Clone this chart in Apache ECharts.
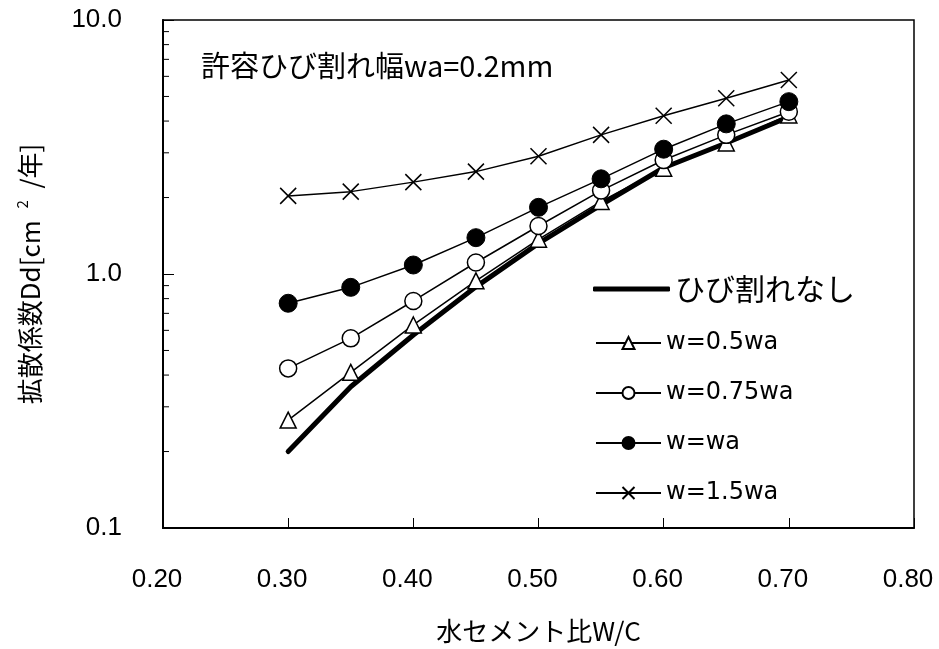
<!DOCTYPE html>
<html>
<head>
<meta charset="utf-8">
<script src="https://cdn.jsdelivr.net/npm/echarts@6/dist/echarts.min.js"></script>
<style>
  html, body { margin: 0; padding: 0; background: #fff; }
  #chart { width: 939px; height: 649px; }
</style>
</head>
<body>
<div id="chart"></div>
<script>
// 水セメント比
const wc = [0.30, 0.35, 0.40, 0.45, 0.50, 0.55, 0.60, 0.65, 0.70];
// 拡散係数 Dd [cm2/年]
const noCrack = [0.20, 0.36, 0.575, 0.89, 1.32, 1.87, 2.62, 3.28, 4.15];
const w05 = [0.266, 0.41, 0.63, 0.94, 1.37, 1.93, 2.61, 3.28, 4.23];
const w075 = [0.425, 0.558, 0.783, 1.11, 1.545, 2.13, 2.81, 3.53, 4.35];
const w10 = [0.767, 0.886, 1.085, 1.39, 1.83, 2.37, 3.10, 3.90, 4.77];
const w15 = [2.03, 2.11, 2.30, 2.53, 2.91, 3.53, 4.20, 4.92, 5.80];

const seriesNames = ['ひび割れなし', 'w=0.5wa', 'w=0.75wa', 'w=wa', 'w=1.5wa'];
const minorTicks = [0.2, 0.3, 0.4, 0.5, 0.6, 0.7, 0.8, 0.9, 2, 3, 4, 5, 6, 7, 8, 9];

const pair = (ys) => wc.map((x, i) => [x, ys[i]]);
const crossPath = 'path://M0,0L10,10M10,0L0,10';
const jp = '"Noto Sans CJK JP", sans-serif';
const num = '"Liberation Sans", Arial, sans-serif';

const chart = echarts.init(document.getElementById('chart'));

const thin = {color: '#000', width: 1.5};

chart.setOption({
  animation: false,
  backgroundColor: '#fff',
  title: {
    text: '許容ひび割れ幅wa=0.2mm',
    left: 201,
    top: 51,
    padding: 0,
    textStyle: {fontFamily: jp, fontSize: 29, fontWeight: 'normal', color: '#000'}
  },
  grid: {
    left: 163, right: 25, top: 20, bottom: 121,
    containLabel: false,
    outerBoundsMode: 'none',
    show: true,
    borderColor: '#000',
    borderWidth: 1.5
  },
  legend: [
    {
      data: [{name: seriesNames[0], icon: 'roundRect'}],
      left: 588,
      top: 269,
      itemWidth: 77,
      itemHeight: 5,
      itemStyle: {color: '#000'},
      textStyle: {fontFamily: jp, fontSize: 30, lineHeight: 30, color: '#000'}
    },
    {
      data: seriesNames.slice(1),
      orient: 'vertical',
      left: 590,
      top: 326,
      itemWidth: 65,
      itemHeight: 15,
      itemGap: 26,
      textStyle: {fontFamily: '"DejaVu Sans", sans-serif', fontSize: 24, lineHeight: 24, color: '#000'}
    }
  ],
  xAxis: {
    type: 'value',
    min: 0.2,
    max: 0.8,
    interval: 0.1,
    name: '水セメント比W/C',
    nameLocation: 'middle',
    nameGap: 90,
    nameTextStyle: {fontFamily: jp, fontSize: 26, color: '#000'},
    axisLine: {lineStyle: {color: '#000', width: 2}},
    axisTick: {inside: true, length: 10, lineStyle: {color: '#000'}},
    axisLabel: {
      margin: 39,
      padding: [0, 12, 0, 0],
      fontFamily: num,
      fontSize: 26,
      color: '#000',
      formatter: (v) => v.toFixed(2)
    },
    splitLine: {show: false}
  },
  yAxis: {
    type: 'log',
    logBase: 10,
    min: 0.1,
    max: 10,
    name: '拡散係数Dd[cm  {sup|2}  /年]',
    nameLocation: 'middle',
    nameGap: 118,
    nameTextStyle: {
      fontFamily: jp, fontSize: 26, color: '#000', lineHeight: 30,
      rich: {sup: {fontFamily: jp, fontSize: 15, color: '#000', verticalAlign: 'top', lineHeight: 30}}
    },
    axisLine: {lineStyle: {color: '#000', width: 2}},
    axisTick: {inside: true, length: 11, lineStyle: {color: '#000'}},
    axisLabel: {
      margin: 41,
      fontFamily: num,
      fontSize: 26,
      color: '#000',
      formatter: (v) => v.toFixed(1)
    },
    splitLine: {show: false}
  },
  series: [
    {
      name: 'minor',
      type: 'custom',
      silent: true,
      clip: false,
      data: minorTicks.map((v) => [0.2, v]),
      renderItem: (params, api) => {
        const p = api.coord([api.value(0), api.value(1)]);
        return {
          type: 'line',
          shape: {x1: p[0], y1: p[1], x2: p[0] + 6, y2: p[1]},
          style: {stroke: '#000', lineWidth: 1}
        };
      }
    },
    {
      name: seriesNames[0],
      type: 'line',
      data: pair(noCrack),
      showSymbol: false,
      symbol: 'none',
      lineStyle: {color: '#000', width: 5, cap: 'round', join: 'round'},
      itemStyle: {color: '#000'}
    },
    {
      name: seriesNames[1],
      type: 'line',
      data: pair(w05),
      symbol: 'triangle',
      symbolSize: 16,
      lineStyle: thin,
      itemStyle: {color: '#fff', borderColor: '#000', borderWidth: 1.5}
    },
    {
      name: seriesNames[2],
      type: 'line',
      data: pair(w075),
      symbol: 'circle',
      symbolSize: 17,
      lineStyle: thin,
      itemStyle: {color: '#fff', borderColor: '#000', borderWidth: 1.5}
    },
    {
      name: seriesNames[3],
      type: 'line',
      data: pair(w10),
      symbol: 'circle',
      symbolSize: 18,
      lineStyle: thin,
      itemStyle: {color: '#000', borderColor: '#000', borderWidth: 1}
    },
    {
      name: seriesNames[4],
      type: 'line',
      data: pair(w15),
      symbol: crossPath,
      symbolSize: 16,
      lineStyle: thin,
      itemStyle: {color: '#000', borderColor: '#000', borderWidth: 1.5}
    }
  ]
});
</script>
</body>
</html>
